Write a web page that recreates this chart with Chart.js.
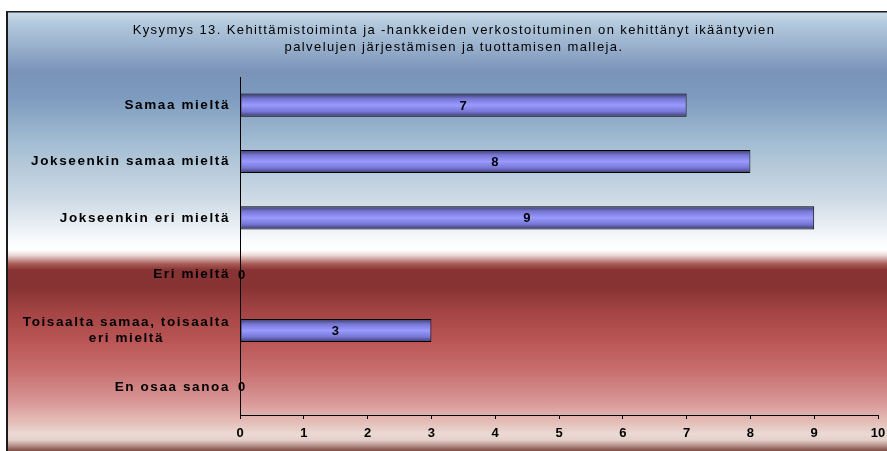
<!DOCTYPE html>
<html>
<head>
<meta charset="utf-8">
<script src="https://cdn.jsdelivr.net/npm/chart.js@4"></script>
<style>
  html, body { margin: 0; padding: 0; background: #fff; }
  #wrap { width: 887px; height: 451px; }
</style>
</head>
<body>
<div id="wrap"><canvas id="grafico" width="887" height="451"></canvas></div>
<script>
// otsikko ja data
var otsikko = [
  "Kysymys 13. Kehittämistoiminta ja -hankkeiden verkostoituminen on kehittänyt ikääntyvien",
  "palvelujen järjestämisen ja tuottamisen malleja."
];
var vastaukset = [
  "Samaa mieltä",
  "Jokseenkin samaa mieltä",
  "Jokseenkin eri mieltä",
  "Eri mieltä",
  ["Toisaalta samaa, toisaalta", "eri mieltä"],
  "En osaa sanoa"
];
var maarat = [7, 8, 9, 0, 3, 0];
var asteikko = [0, 1, 2, 3, 4, 5, 6, 7, 8, 9, 10];

var fontti = "Arial, 'Liberation Sans', sans-serif";
var palkinOsuus = 0.41;

// palkin liukuväri
function palkinVari(c) {
  var chart = c.chart;
  var y = chart.scales && chart.scales.y;
  if (!y || !chart.chartArea) return "#9999ff";
  var keski = y.getPixelForValue(c.dataIndex);
  var hh = Math.abs(y.getPixelForValue(1) - y.getPixelForValue(0)) * palkinOsuus / 2;
  var g = chart.ctx.createLinearGradient(0, keski - hh, 0, keski + hh);
  g.addColorStop(0, "#3a3a66");
  g.addColorStop(0.22, "#7676d4");
  g.addColorStop(0.5, "#9a9aff");
  g.addColorStop(0.78, "#7676d4");
  g.addColorStop(1, "#3a3a66");
  return g;
}

// tausta, kehys, otsikko ja tekstit
var taustaPlugin = {
  id: "tausta",
  beforeDraw: function (chart) {
    var ctx = chart.ctx;
    var w = chart.width, h = chart.height;
    ctx.save();
    ctx.fillStyle = "#ffffff";
    ctx.fillRect(0, 0, w, h);
    var g = ctx.createLinearGradient(0, 12, 0, h);
    var stops = [
      [0, "#cadcea"], [12, "#b2c8dc"], [35, "#98b0cc"], [60, "#7a92b8"],
      [85, "#7d9bbf"], [130, "#a2bcd2"], [190, "#d0dce6"], [228, "#f8fafc"],
      [238, "#ffffff"], [243, "#ecdcd8"], [252, "#a85a56"], [258, "#883434"],
      [275, "#873333"], [300, "#a44444"], [330, "#bb5656"], [360, "#c87070"],
      [390, "#d99797"], [412, "#e5c2bc"], [422, "#ebdad4"], [428, "#e4d0ca"],
      [432, "#c4a49c"], [439, "#7e4c44"]
    ];
    stops.forEach(function (s) {
      g.addColorStop(s[0] / (h - 12), s[1]);
    });
    ctx.fillStyle = g;
    ctx.fillRect(6, 12, w - 6, h - 12);
    // kehys
    ctx.fillStyle = "#1a1a1a";
    ctx.fillRect(6, 11, w - 6, 1.5);
    ctx.fillRect(6, 11, 2, h - 11);
    // otsikko
    ctx.fillStyle = "#000";
    ctx.font = "13px " + fontti;
    ctx.letterSpacing = "1.4px";
    ctx.textAlign = "center";
    ctx.textBaseline = "middle";
    ctx.fillText(otsikko[0], 454, 30);
    ctx.fillText(otsikko[1], 454, 47);
    ctx.restore();
  },
  afterDatasetsDraw: function (chart) {
    var ctx = chart.ctx;
    var meta = chart.getDatasetMeta(0);
    var yAks = chart.scales.y;
    ctx.save();
    ctx.fillStyle = "#000";
    ctx.textBaseline = "middle";
    ctx.letterSpacing = "1px";
    // arvot palkkien keskelle
    ctx.font = "bold 13px " + fontti;
    ctx.textAlign = "center";
    meta.data.forEach(function (el, i) {
      var x = (el.base + el.x) / 2;
      if (maarat[i] === 0) x = el.base + 2;
      ctx.fillText(String(maarat[i]), x, el.y + 1);
    });
    // luokkien nimet
    ctx.font = "bold 13.5px " + fontti;
    ctx.letterSpacing = "1.6px";
    var oikea = yAks.right - 10;
    vastaukset.forEach(function (nimi, i) {
      var y = yAks.getPixelForValue(i);
      if (Array.isArray(nimi)) {
        var leveys = Math.max.apply(null, nimi.map(function (r) { return ctx.measureText(r).width; }));
        var keski = oikea - leveys / 2;
        ctx.textAlign = "center";
        nimi.forEach(function (r, k) {
          ctx.fillText(r, keski, y + (k - (nimi.length - 1) / 2) * 16);
        });
      } else {
        ctx.textAlign = "right";
        ctx.fillText(nimi, oikea, y);
      }
    });
    ctx.restore();
  }
};

const ctx = document.getElementById("grafico").getContext("2d");

const grafico = new Chart(ctx, {
  type: "bar",
  data: {
    labels: vastaukset,
    datasets: [
      {
        label: "Vastaukset",
        data: maarat,
        backgroundColor: palkinVari,
        borderColor: "#000000",
        borderWidth: 1,
        borderSkipped: false,
        categoryPercentage: 1,
        barPercentage: palkinOsuus
      }
    ]
  },
  options: {
    indexAxis: "y",
    responsive: false,
    animation: false,
    devicePixelRatio: 1,
    layout: { padding: { top: 77, right: 9, bottom: 0, left: 0 } },
    plugins: {
      legend: { display: false },
      title: { display: false },
      tooltip: { enabled: false }
    },
    scales: {
      x: {
        min: asteikko[0],
        max: asteikko[asteikko.length - 1],
        afterBuildTicks: function (scale) {
          scale.ticks = asteikko.map(function (v) { return { value: v }; });
        },
        afterFit: function (scale) {
          scale.height = 36;
          scale.paddingLeft = 0;
          scale.paddingRight = 0;
        },
        grid: { display: true, drawOnChartArea: false, drawTicks: true, tickLength: 4, color: "#000" },
        border: { display: true, color: "#000", width: 1 },
        ticks: {
          color: "#000",
          padding: 7,
          maxRotation: 0,
          font: { family: fontti, size: 13, weight: "bold" }
        }
      },
      y: {
        offset: true,
        afterFit: function (scale) { scale.width = 240; },
        grid: { display: false },
        border: { display: true, color: "#000", width: 1 },
        ticks: { display: false }
      }
    }
  },
  plugins: [taustaPlugin]
});
</script>
</body>
</html>
